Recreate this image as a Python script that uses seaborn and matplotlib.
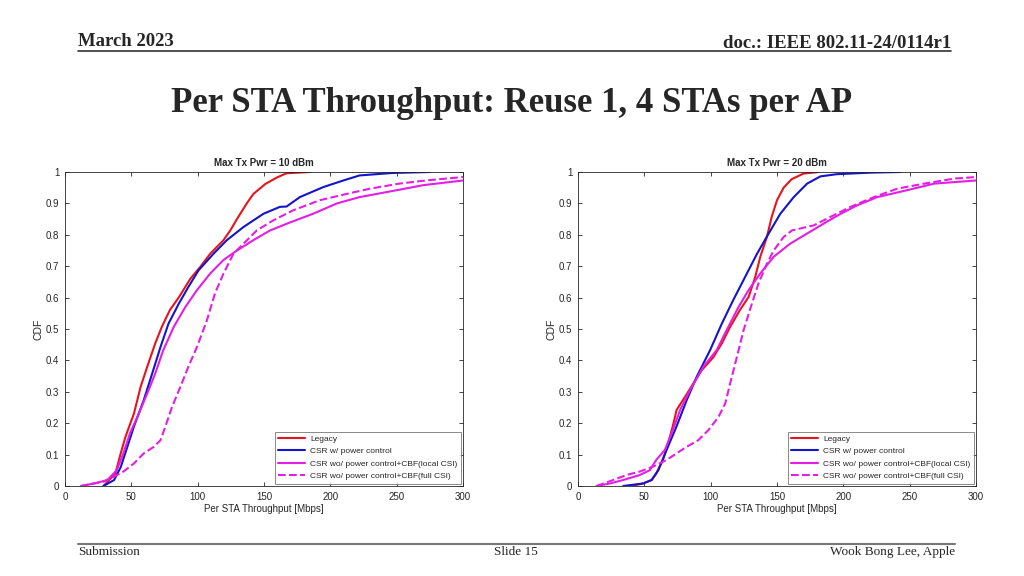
import numpy as np
import pandas as pd
import matplotlib
matplotlib.use("Agg")
import matplotlib.pyplot as plt
import seaborn as sns

# ---------------- data ----------------
series_names = ["Legacy", "CSR w/ power control",
                "CSR wo/ power control+CBF(local CSI)",
                "CSR wo/ power control+CBF(full CSI)"]
series_colors = ["#e8141c", "#1414cc", "#e41ee4", "#e41ee4"]
series_dashes = ["-", "-", "-", "--"]

panel_titles = ["Max Tx Pwr = 10 dBm", "Max Tx Pwr = 20 dBm"]

# Left panel (10 dBm)
legacy_10_x = [29, 38, 42, 45.6, 52, 57, 62, 68, 73, 79, 86, 94.5, 102, 109.5, 119.5, 124.6, 129.6, 137, 142, 151, 160, 167, 184.7]
legacy_10_y = [0, 0.04, 0.104, 0.157, 0.231, 0.316, 0.38, 0.454, 0.507, 0.56, 0.602, 0.66, 0.698, 0.74, 0.783, 0.814, 0.85, 0.9, 0.93, 0.962, 0.983, 0.996, 1.0]
csr_pc_10_x = [29, 37, 42, 47, 52, 59.4, 65.7, 72, 78, 85.7, 93, 100.7, 112, 122, 134.6, 149.6, 162, 167, 177, 194.7, 209.8, 222, 247, 275]
csr_pc_10_y = [0, 0.019, 0.06, 0.125, 0.19, 0.274, 0.358, 0.443, 0.517, 0.58, 0.634, 0.687, 0.74, 0.783, 0.825, 0.867, 0.889, 0.890, 0.92, 0.952, 0.973, 0.989, 0.997, 1.0]
cbf_local_10_x = [12, 22, 32, 39, 44, 49, 55.6, 62, 68, 74, 82, 90.7, 99.5, 109.5, 119.5, 129.6, 142, 154.6, 170, 187, 205, 222, 250, 270, 300]
cbf_local_10_y = [0, 0.008, 0.019, 0.05, 0.104, 0.168, 0.23, 0.295, 0.358, 0.432, 0.507, 0.57, 0.624, 0.677, 0.72, 0.75, 0.783, 0.814, 0.84, 0.867, 0.9, 0.92, 0.942, 0.958, 0.973]
cbf_full_10_x = [12, 29, 37, 44, 52, 59.4, 67, 72, 75.7, 80.7, 87, 93, 99.5, 107, 113, 119.5, 127, 134.6, 144.6, 157, 172, 192, 212, 230, 252, 272, 300]
cbf_full_10_y = [0, 0.014, 0.03, 0.046, 0.072, 0.104, 0.125, 0.146, 0.19, 0.252, 0.316, 0.38, 0.443, 0.528, 0.613, 0.677, 0.74, 0.772, 0.814, 0.846, 0.878, 0.91, 0.93, 0.947, 0.963, 0.973, 0.984]

# Right panel (20 dBm)
legacy_20_x = [40, 49, 55.5, 59, 64, 68, 72, 74.3, 80.7, 87, 93.3, 102, 108.4, 114.7, 122, 128.6, 133.6, 137.4, 142.4, 146, 150, 155, 161, 170, 181.5]
legacy_20_y = [0, 0.008, 0.019, 0.04, 0.083, 0.136, 0.2, 0.242, 0.284, 0.327, 0.369, 0.41, 0.454, 0.507, 0.56, 0.602, 0.666, 0.73, 0.793, 0.857, 0.91, 0.95, 0.977, 0.995, 1.0]
csr_pc_20_x = [34, 49, 55.5, 60.5, 66.8, 74.3, 82, 89.5, 99.6, 108.4, 117, 126, 135, 143.7, 152.5, 162.6, 172.7, 182.7, 195, 220.6, 243]
csr_pc_20_y = [0, 0.008, 0.019, 0.05, 0.115, 0.19, 0.274, 0.348, 0.433, 0.517, 0.592, 0.666, 0.74, 0.804, 0.867, 0.92, 0.963, 0.986, 0.993, 0.998, 1.0]
cbf_local_20_x = [14, 24, 34, 46.6, 54, 59, 65.5, 70.6, 77, 84.4, 94.5, 104.6, 112, 121, 128.6, 137.4, 147.5, 160, 172.7, 185.3, 198, 210.5, 225.6, 248, 268.5, 300]
cbf_local_20_y = [0, 0.008, 0.019, 0.035, 0.05, 0.083, 0.115, 0.168, 0.242, 0.305, 0.38, 0.433, 0.496, 0.57, 0.624, 0.677, 0.73, 0.772, 0.804, 0.836, 0.867, 0.894, 0.92, 0.942, 0.963, 0.973]
cbf_full_20_x = [14, 26.5, 36.5, 46.6, 56.7, 66.8, 74.3, 82, 90.7, 98.3, 105.9, 111, 114.7, 119.7, 124.8, 131, 136, 142.4, 147.5, 155, 161.3, 177.7, 190.3, 205.4, 223, 240.7, 261, 283.6, 300]
cbf_full_20_y = [0, 0.019, 0.035, 0.046, 0.062, 0.083, 0.104, 0.125, 0.146, 0.178, 0.22, 0.263, 0.327, 0.41, 0.496, 0.58, 0.645, 0.708, 0.75, 0.793, 0.814, 0.83, 0.857, 0.889, 0.92, 0.947, 0.963, 0.979, 0.984]

panels = [
    [(legacy_10_x, legacy_10_y), (csr_pc_10_x, csr_pc_10_y),
     (cbf_local_10_x, cbf_local_10_y), (cbf_full_10_x, cbf_full_10_y)],
    [(legacy_20_x, legacy_20_y), (csr_pc_20_x, csr_pc_20_y),
     (cbf_local_20_x, cbf_local_20_y), (cbf_full_20_x, cbf_full_20_y)],
]

x_ticks = [0, 50, 100, 150, 200, 250, 300]
y_ticks = [0, 0.1, 0.2, 0.3, 0.4, 0.5, 0.6, 0.7, 0.8, 0.9, 1]
y_tick_labels = ["0", "0.1", "0.2", "0.3", "0.4", "0.5", "0.6", "0.7", "0.8", "0.9", "1"]

# ---------------- figure ----------------
sns.set_theme(style="ticks")
plt.rcParams["font.family"] = ["Liberation Sans", "DejaVu Sans"]

fig = plt.figure(figsize=(10.24, 5.76), dpi=100)
fig.patch.set_facecolor("white")

serif = ["Liberation Serif", "DejaVu Serif"]
# header
fig.text(78 / 1024, 1 - 41 / 576, "March 2023", family=serif, fontweight="bold",
         fontsize=13.5, ha="left", va="center")
fig.text(951 / 1024, 1 - 43 / 576, "doc.: IEEE 802.11-24/0114r1", family=serif,
         fontweight="bold", fontsize=13.5, ha="right", va="center")
fig.add_artist(plt.Line2D([78 / 1024, 951 / 1024], [1 - 51 / 576, 1 - 51 / 576],
                          color="#333333", lw=1.2))
fig.text(512 / 1024, 1 - 104 / 576, "Per STA Throughput: Reuse 1, 4 STAs per AP",
         family=serif, fontweight="bold", fontsize=25, ha="center", va="center")
# footer
fig.add_artist(plt.Line2D([78 / 1024, 955 / 1024], [1 - 544 / 576, 1 - 544 / 576],
                          color="#777777", lw=1.5))
fig.text(78 / 1024, 1 - 552 / 576, "Submission", family=serif, fontsize=9.5,
         ha="left", va="center")
fig.text(516 / 1024, 1 - 552 / 576, "Slide 15", family=serif, fontsize=9.5,
         ha="center", va="center")
fig.text(955 / 1024, 1 - 552 / 576, "Wook Bong Lee, Apple", family=serif,
         fontsize=9.5, ha="right", va="center")

ax_lefts = [65 / 1024, 578 / 1024]
ax_w = 398 / 1024
ax_b = 1 - 486 / 576
ax_h = 314 / 576

for p, left in enumerate(ax_lefts):
    ax = fig.add_axes([left, ax_b, ax_w, ax_h])
    for i, (xs, ys) in enumerate(panels[p]):
        sns.lineplot(x=xs, y=ys, ax=ax, color=series_colors[i],
                     linestyle=series_dashes[i], linewidth=1.5,
                     estimator=None, sort=False, label=series_names[i])
    ax.set_xlim(0, 300)
    ax.set_ylim(0, 1)
    ax.set_xticks(x_ticks)
    ax.set_yticks(y_ticks)
    ax.set_yticklabels(y_tick_labels)
    ax.tick_params(direction="in", top=True, right=True, length=3, width=0.6,
                   labelsize=7, colors="#262626", pad=4)
    for s in ax.spines.values():
        s.set_linewidth(0.6)
        s.set_color("#262626")
    ax.set_title(panel_titles[p], fontsize=7, fontweight="bold", pad=4)
    ax.set_xlabel("Per STA Throughput [Mbps]", fontsize=7, labelpad=2)
    ax.set_ylabel("CDF", fontsize=7.5, labelpad=2)
    leg = ax.legend(loc="lower right", fontsize=6, frameon=True, fancybox=False,
                    borderpad=0.4, labelspacing=0.55, handlelength=3.2,
                    handletextpad=0.6, borderaxespad=0.3)
    leg.get_frame().set_edgecolor("#555555")
    leg.get_frame().set_linewidth(0.6)

fig.savefig("out.png", dpi=100, facecolor="white")
